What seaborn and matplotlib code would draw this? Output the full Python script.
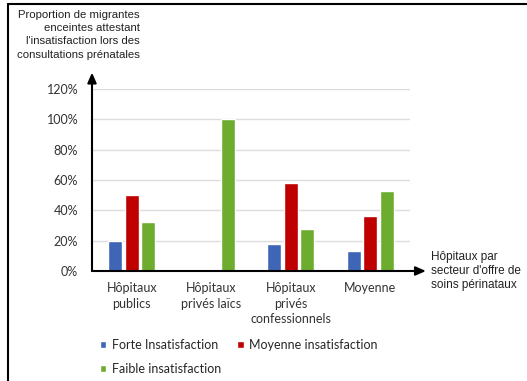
import matplotlib
matplotlib.use("Agg")
import matplotlib.pyplot as plt
import seaborn as sns
import pandas as pd

# Data: share of pregnant migrant women reporting dissatisfaction, by hospital sector
categories = ["Hôpitaux\npublics", "Hôpitaux\nprivés laïcs", "Hôpitaux\nprivés\nconfessionnels", "Moyenne"]
levels = ["Forte Insatisfaction", "Moyenne insatisfaction", "Faible insatisfaction"]
forte = [0.20, 0.0, 0.18, 0.13]
moyenne = [0.50, 0.0, 0.58, 0.36]
faible = [0.32, 1.00, 0.28, 0.53]
colors = ["#3F66B6", "#C00000", "#6EAC2F"]
y_ticks = [0, 0.2, 0.4, 0.6, 0.8, 1.0, 1.2]

rows = []
for lvl, vals in zip(levels, [forte, moyenne, faible]):
    for cat, v in zip(categories, vals):
        rows.append({"secteur": cat, "niveau": lvl, "valeur": v})
df = pd.DataFrame(rows)

sns.set_theme(style="white")
plt.rcParams["font.family"] = ["Lato", "DejaVu Sans"]

fig = plt.figure(figsize=(5.27, 3.81), dpi=100)
ax = fig.add_axes([92 / 527, 1 - 271 / 381, 318 / 527, 182 / 381])

sns.barplot(data=df, x="secteur", y="valeur", hue="niveau", order=categories,
            hue_order=levels, palette=colors, width=0.62, gap=0.15,
            saturation=1, ax=ax, legend=True)

ax.set_ylim(0, 1.2)
ax.set_xlim(-0.5, len(categories) - 0.5)
ax.set_yticks(y_ticks)
ax.set_yticklabels([f"{int(round(t * 100))}%" for t in y_ticks], fontsize=9, color="#333333")
ax.yaxis.grid(True, color="#DCDCDC", linewidth=1)
ax.set_axisbelow(True)
ax.tick_params(axis="x", labelsize=9, colors="#333333", pad=8, length=0)
ax.tick_params(axis="y", length=0, pad=10)
for lab in ax.get_xticklabels():
    lab.set_linespacing(1.35)
ax.set_xlabel("")
ax.set_ylabel("")
for s in ax.spines.values():
    s.set_visible(False)

# Axis lines drawn as arrows
arrow = dict(arrowstyle="-|>,head_length=0.5,head_width=0.22", color="black", lw=1.5,
             shrinkA=0, shrinkB=0)
ax.annotate("", xy=(0, 1.09), xycoords="axes fraction", xytext=(0, 0),
            textcoords="axes fraction", arrowprops=arrow, annotation_clip=False)
ax.annotate("", xy=(1.05, 0), xycoords="axes fraction", xytext=(0, 0),
            textcoords="axes fraction", arrowprops=arrow, annotation_clip=False)

# Axis titles
fig.text(140 / 527, 1 - 10 / 381,
         "Proportion de migrantes\nenceintes attestant\nl'insatisfaction lors des\nconsultations prénatales",
         ha="right", va="top", fontsize=8.2, family=["Liberation Sans"], color="#222222",
         linespacing=1.4)
fig.text(431 / 527, 1 - 251 / 381, "Hôpitaux par\nsecteur d'offre de\nsoins périnataux",
         ha="left", va="top", fontsize=8.5, family=["Liberation Sans"], color="#222222",
         linespacing=1.2)

# Legend in reading order
handles, labels = ax.get_legend_handles_labels()
order = [0, 2, 1]
ax.legend([handles[i] for i in order], [labels[i] for i in order], ncol=2,
          frameon=False, fontsize=9, loc="upper left",
          bbox_to_anchor=(100 / 527, 1 - 339 / 381), bbox_transform=fig.transFigure,
          handlelength=0.5, handleheight=0.5, handletextpad=0.45, columnspacing=1.3,
          labelspacing=0.95, borderaxespad=0, borderpad=0)

# Frame lines along the top and left edges
fig.add_artist(plt.Line2D([8 / 527, 1], [1 - 4 / 381, 1 - 4 / 381], transform=fig.transFigure,
                          color="black", lw=1.5))
fig.add_artist(plt.Line2D([8 / 527, 8 / 527], [0, 1 - 4 / 381], transform=fig.transFigure,
                          color="black", lw=1.5))

fig.savefig("out.png", dpi=100)
